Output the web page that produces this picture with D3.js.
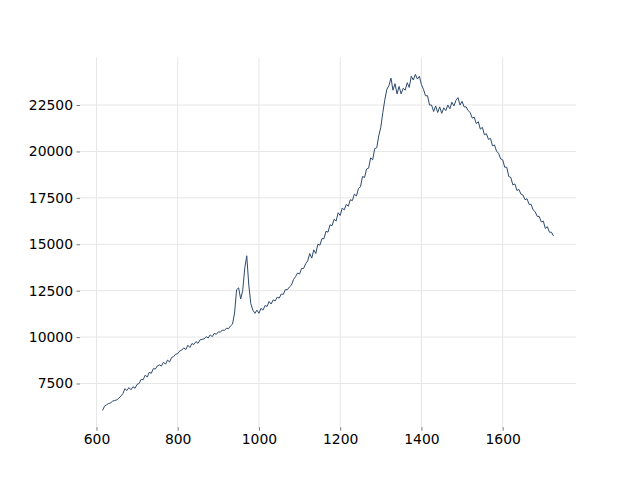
<!DOCTYPE html>
<html>
<head>
<meta charset="utf-8">
<script src="https://cdn.jsdelivr.net/npm/d3@7"></script>
<style>
  html, body { margin: 0; padding: 0; background: #fff; }
  svg text { font-family: "DejaVu Sans", sans-serif; }
</style>
</head>
<body>
<svg id="chart" width="640" height="480"></svg>
<script>
// Wavenumber axis: start, step
const xStart = 615;
const xStep = 5;
// Intensity values (one per step)
const intensity = [
  6050, 6280, 6350, 6420, 6450, 6560, 6580, 6620, 6700, 6820,
  6950, 7220, 7120, 7280, 7160, 7330, 7240, 7450, 7500, 7720,
  7700, 7950, 7850, 8100, 8050, 8300, 8280, 8450, 8500, 8440,
  8650, 8540, 8760, 8660, 8900, 8950, 9080, 9100, 9250, 9300,
  9420, 9330, 9560, 9440, 9650, 9600, 9760, 9660, 9850, 9880,
  9900, 10020, 9950, 10120, 10020, 10200, 10150, 10280, 10260, 10380,
  10360, 10480, 10450, 10600, 10700, 11300, 12550, 12650, 12050, 12500,
  13700, 14380, 12800, 11800, 11450, 11280, 11450, 11280, 11550, 11450,
  11700, 11650, 11920, 11780, 12000, 11950, 12150, 12100, 12320, 12300,
  12560, 12550, 12700, 12800, 13100, 13250, 13450, 13400, 13700, 13700,
  13950, 14100, 14500, 14250, 14700, 14500, 15000, 14950, 15300, 15300,
  15700, 15650, 16050, 16000, 16350, 16250, 16700, 16550, 16950, 16850,
  17150, 17050, 17400, 17350, 17700, 17600, 18000, 18100, 18650, 18600,
  19050, 19100, 19650, 19550, 20150, 20200, 20850, 21300, 22100, 22800,
  23350, 23550, 23950, 23300, 23650, 23100, 23500, 23100, 23400, 23300,
  23700, 23450, 24050, 23850, 24150, 23900, 24050, 23600, 23350, 23000,
  23000, 22500, 22500, 22150, 22450, 22100, 22400, 22050, 22350, 22200,
  22500, 22300, 22650, 22450, 22750, 22900, 22500, 22700, 22400, 22400,
  22200, 22100, 21800, 21850, 21500, 21600, 21200, 21300, 20900, 20950,
  20650, 20700, 20300, 20350, 20000, 19900, 19600, 19550, 19150, 19150,
  18650, 18600, 18200, 18250, 17900, 17950, 17700, 17650, 17400, 17450,
  17150, 17150, 16850, 16750, 16500, 16500, 16200, 16250, 15850, 15950,
  15650, 15650, 15450
];
const xTicks = [600, 800, 1000, 1200, 1400, 1600];
const yTicks = [7500, 10000, 12500, 15000, 17500, 20000, 22500];

(function () {
  const data = intensity.map((v, i) => ({ x: xStart + i * xStep, y: v }));

  const mL = 80, mR = 576, mT = 57.6, mB = 427.2;

  const xExt = d3.extent(data, d => d.x);
  const yExt = d3.extent(data, d => d.y);
  const xPad = (xExt[1] - xExt[0]) * 0.05;
  const yPad = (yExt[1] - yExt[0]) * 0.05;

  const x = d3.scaleLinear().domain([xExt[0] - xPad, xExt[1] + xPad]).range([mL, mR]);
  const y = d3.scaleLinear().domain([yExt[0] - yPad, yExt[1] + yPad]).range([mB, mT]);

  const svg = d3.select("#chart");

  // grid
  svg.append("g").selectAll("line").data(xTicks).join("line")
    .attr("x1", d => x(d)).attr("x2", d => x(d))
    .attr("y1", mT).attr("y2", mB)
    .attr("stroke", "#e6e6e6").attr("stroke-width", 1);
  svg.append("g").selectAll("line").data(yTicks).join("line")
    .attr("y1", d => y(d)).attr("y2", d => y(d))
    .attr("x1", mL).attr("x2", mR)
    .attr("stroke", "#e6e6e6").attr("stroke-width", 1);

  // axes
  const xAxis = d3.axisBottom(x).tickValues(xTicks).tickSize(3.5).tickPadding(3.5).tickFormat(d3.format("d"));
  const yAxis = d3.axisLeft(y).tickValues(yTicks).tickSize(3.5).tickPadding(3.5).tickFormat(d3.format("d"));

  const gx = svg.append("g").attr("transform", `translate(0,${mB})`).call(xAxis);
  const gy = svg.append("g").attr("transform", `translate(${mL},0)`).call(yAxis);
  [gx, gy].forEach(g => {
    g.select(".domain").remove();
    g.selectAll(".tick line").attr("stroke", "#555").attr("stroke-width", 0.8);
    g.selectAll(".tick text").attr("fill", "#000").attr("font-size", "13.9px")
      .attr("font-family", "DejaVu Sans, sans-serif");
  });

  // line
  svg.append("path").datum(data)
    .attr("fill", "none")
    .attr("stroke", "#2e4a6d")
    .attr("stroke-width", 1)
    .attr("stroke-linejoin", "round")
    .attr("d", d3.line().x(d => x(d.x)).y(d => y(d.y)));
})();
</script>
</body>
</html>
